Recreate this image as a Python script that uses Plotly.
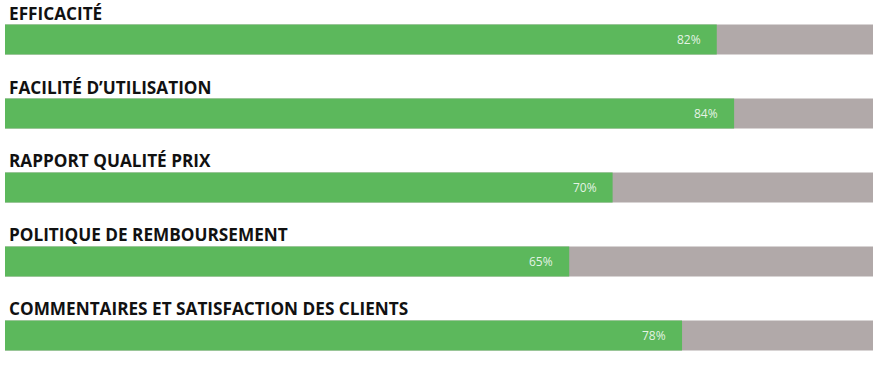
import plotly.graph_objects as go

categories = ["EFFICACITÉ", "FACILITÉ D’UTILISATION", "RAPPORT QUALITÉ PRIX",
              "POLITIQUE DE REMBOURSEMENT", "COMMENTAIRES ET SATISFACTION DES CLIENTS"]
values = [82, 84, 70, 65, 78]
full = [100] * len(categories)
labels = [f"{v}%" for v in values]

GREEN = "#5cb85c"
GRAY = "#b1a9a9"

fig = go.Figure()
fig.add_trace(go.Bar(y=categories, x=full, orientation="h", marker=dict(color=GRAY, line=dict(width=0)),
                     width=0.405, hoverinfo="skip", showlegend=False))
fig.add_trace(go.Bar(y=categories, x=values, orientation="h", marker=dict(color=GREEN, line=dict(width=0)),
                     width=0.405, showlegend=False))

for c, v, t in zip(categories, values, labels):
    fig.add_annotation(x=v, y=c, text=t, xanchor="right", yanchor="middle", xshift=-14,
                       showarrow=False, font=dict(family="Open Sans", size=12, color="rgba(255,255,255,0.85)"))
    fig.add_annotation(x=0, xref="paper", y=c, text=f"<b>{c}</b>", xanchor="left", yanchor="middle",
                       xshift=2, yshift=26.5, showarrow=False,
                       font=dict(family="Open Sans", size=17.2, color="#111111"))

fig.update_layout(
    width=885, height=365, barmode="overlay",
    margin=dict(l=5, r=12, t=0, b=0),
    paper_bgcolor="white", plot_bgcolor="white",
    xaxis=dict(range=[0, 100], visible=False, fixedrange=True),
    yaxis=dict(range=[4.399, -0.534], visible=False, type="category", categoryorder="array",
               categoryarray=categories, fixedrange=True),
)
fig.write_html("out.html", config={"displayModeBar": False},
               post_script="document.body.style.margin='0';document.body.style.overflow='hidden';")
